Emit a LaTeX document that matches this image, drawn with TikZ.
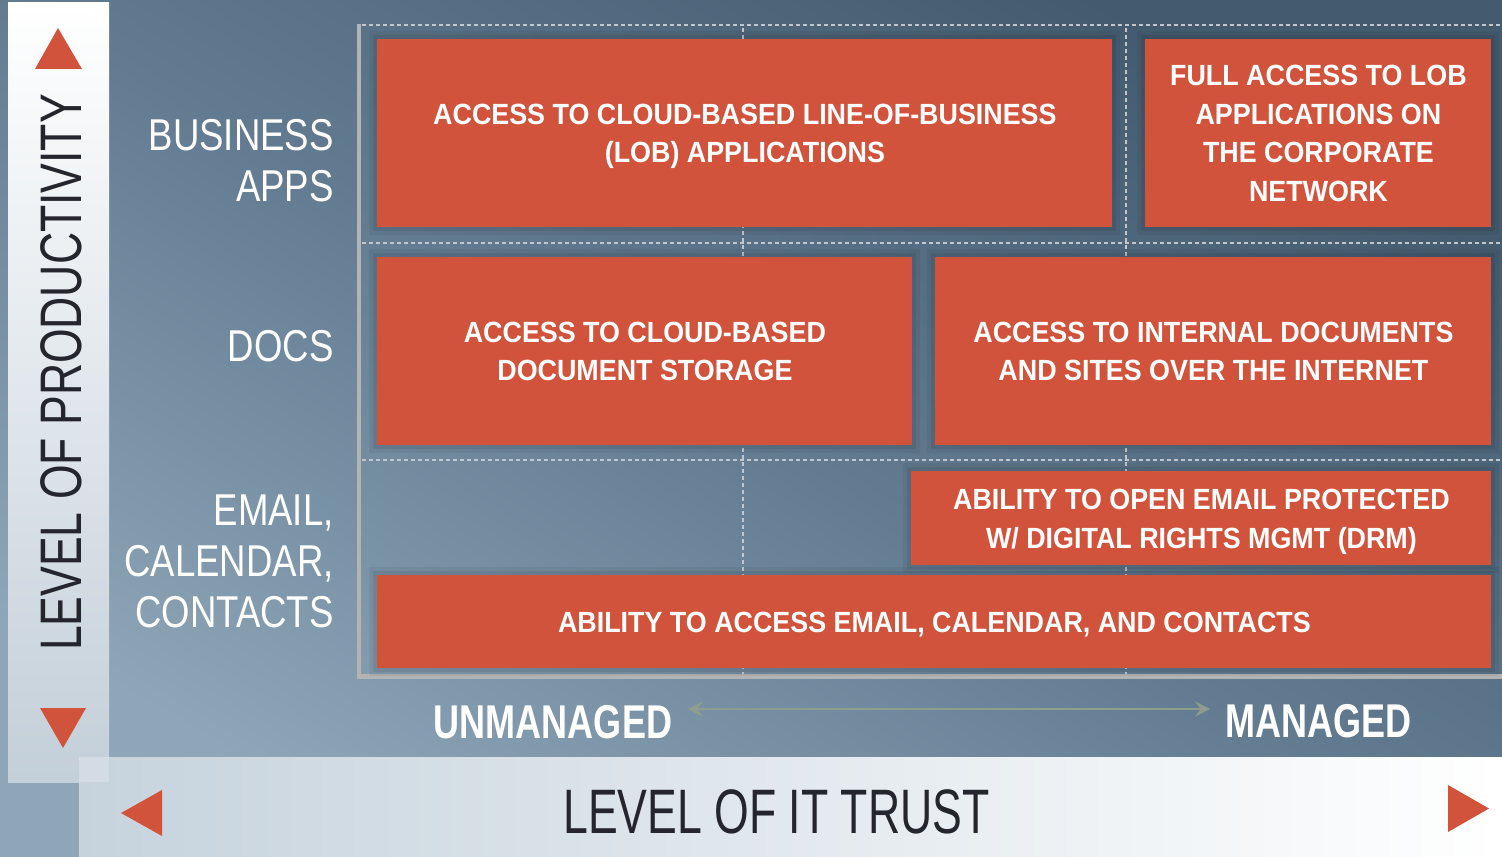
\documentclass[tikz,border=0pt]{standalone}
\usepackage{fontspec}
\setmainfont{Liberation Sans}
\newfontfamily\boxfont[FakeStretch=0.92]{Liberation Sans Bold}
\newfontfamily\rowfont[FakeStretch=0.82]{Liberation Sans}
\newfontfamily\axfont[FakeStretch=0.76]{Liberation Sans Bold}
\newfontfamily\trustfont[FakeStretch=0.71]{Liberation Sans}
\newfontfamily\prodfont[FakeStretch=0.76]{Liberation Sans}
\usetikzlibrary{arrows.meta}
\newcommand{\nodepth}[1]{\raisebox{0pt}[\height][0pt]{#1}}
\definecolor{boxred}{HTML}{D2533C}
\definecolor{darktext}{HTML}{25252D}
\definecolor{axisgrey}{HTML}{B3B3B3}
\definecolor{dashgrey}{HTML}{C3C7CB}
\definecolor{arrowgreen}{HTML}{8E9E8E}
\definecolor{bgdark}{HTML}{445B6F}
\definecolor{bgmid}{HTML}{627B91}
\definecolor{bglight}{HTML}{8FA6B8}
\definecolor{vbarbot}{HTML}{C3CFD9}
\definecolor{hbarleft}{HTML}{C6D3DD}
\definecolor{overlap}{HTML}{D3DCE4}
\tikzset{
  redbox/.style={fill=boxred, text=white, align=center, inner sep=0pt, anchor=north west,
    font=\boxfont\fontsize{14.6}{19.4}\selectfont,
    preaction={draw=black, line width=8pt, opacity=0.05},
    preaction={draw=black, line width=4pt, opacity=0.07}},
  rowlabel/.style={text=white, align=right, anchor=east, inner sep=0pt,
    font=\rowfont\fontsize{22.3}{25.5}\selectfont},
  axlabel/.style={text=white, inner sep=0pt, font=\axfont\fontsize{23.7}{28}\selectfont},
  gridline/.style={dashgrey, line width=0.6pt, dash pattern=on 2pt off 1.5pt},
  axisline/.style={axisgrey, line width=2.4pt},
  marker/.style={fill=boxred}
}
\begin{document}
\begin{tikzpicture}[x=0.5pt, y=-0.5pt]
\useasboundingbox (0,0) rectangle (1502,856);
% background
\shade[top color=bgdark, bottom color=bglight, middle color=bgmid, shading angle=-30] (0,0) rectangle (1502,856);
% side bars
\shade[top color=white, bottom color=vbarbot] (8,3) rectangle (109,782);
\shade[left color=hbarleft, right color=white] (79,757) rectangle (1502,856);
\fill[overlap] (79,757) rectangle (109,782);
% triangles
\fill[marker] (58,28) -- (82,69) -- (35,69) -- cycle;
\fill[marker] (40,708) -- (86,708) -- (63,748) -- cycle;
\fill[marker] (121,813) -- (162,790) -- (162,836) -- cycle;
\fill[marker] (1448,785) -- (1489,808.5) -- (1448,832) -- cycle;
% grid
\draw[gridline] (362,25) -- (1502,25);
\draw[gridline] (362,243) -- (1502,243);
\draw[gridline] (362,460) -- (1502,460);
\draw[gridline] (743,28) -- (743,674);
\draw[gridline] (1126,28) -- (1126,674);
\draw[axisline] (359,24) -- (359,676.5) -- (1502,676.5);
% boxes
\node[redbox, minimum width=367.5pt, minimum height=94pt] (b1) at (377,39)
  {ACCESS TO CLOUD-BASED LINE-OF-BUSINESS\\\nodepth{(LOB) APPLICATIONS}};
\node[redbox, minimum width=173pt, minimum height=94pt] (b2) at (1145,39)
  {FULL ACCESS TO LOB\\APPLICATIONS ON\\THE CORPORATE\\NETWORK};
\node[redbox, minimum width=267.5pt, minimum height=94pt] (b3) at (377,257)
  {ACCESS TO CLOUD-BASED\\DOCUMENT STORAGE};
\node[redbox, minimum width=278pt, minimum height=94pt] (b4) at (935,257)
  {ACCESS TO INTERNAL DOCUMENTS\\AND SITES OVER THE INTERNET};
\node[redbox, minimum width=290pt, minimum height=47pt] (b5) at (911,471)
  {ABILITY TO OPEN EMAIL PROTECTED\\\nodepth{W/ DIGITAL RIGHTS MGMT (DRM)}};
\node[redbox, minimum width=557pt, minimum height=46.5pt] (b6) at (377,575)
  {\nodepth{ABILITY TO ACCESS EMAIL, CALENDAR, AND CONTACTS}};
% row labels
\node[rowlabel] (rbiz) at (334,161) {BUSINESS\\APPS};
\node[rowlabel] (rdocs) at (334,346) {DOCS};
\node[rowlabel] (rmail) at (334,561) {EMAIL,\\CALENDAR,\\CONTACTS};
% axis labels
\node[axlabel] (unm) at (553,722) {UNMANAGED};
\node[axlabel] (man) at (1318.5,721.5) {MANAGED};
\coordinate (al) at (688,709);
\coordinate (ar) at (1210,709);
\draw[arrowgreen, line width=1.4pt, {Stealth[length=7.5pt,width=7.5pt,inset=3pt]}-{Stealth[length=7.5pt,width=7.5pt,inset=3pt]}] (al) -- (ar);
\node[text=darktext, inner sep=0pt, font=\trustfont\fontsize{31.4}{36}\selectfont] (trust) at (776.5,811.5) {LEVEL OF IT TRUST};
\node[text=darktext, inner sep=0pt, rotate=90, font=\prodfont\fontsize{29.3}{34}\selectfont] (prod) at (61,372.5) {LEVEL OF PRODUCTIVITY};
\end{tikzpicture}
\end{document}
